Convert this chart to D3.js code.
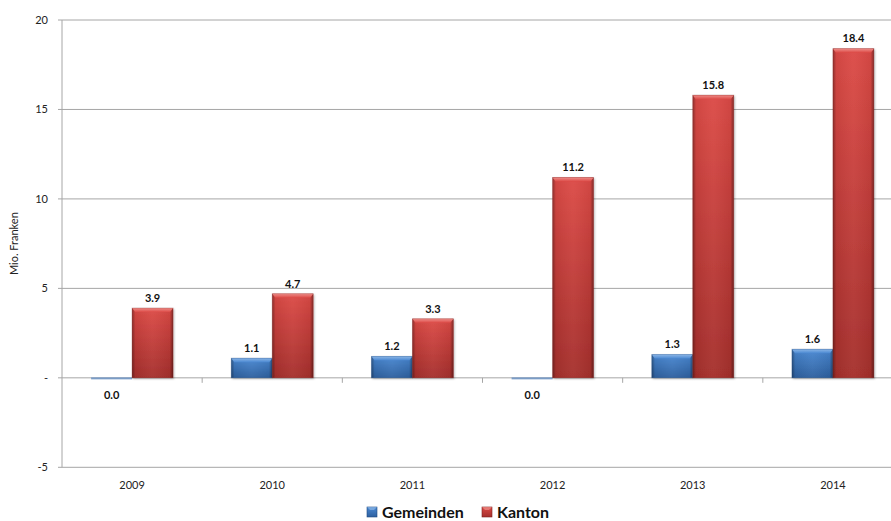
<!DOCTYPE html>
<html>
<head>
<meta charset="utf-8">
<script src="https://cdn.jsdelivr.net/npm/d3@7"></script>
<style>
  html, body { margin: 0; padding: 0; background: #fff; }
  svg { display: block; font-family: Lato, "Open Sans", sans-serif; }
</style>
</head>
<body>
<svg id="chart" width="891" height="521"></svg>
<script>
// Jahre und Werte in Mio. Franken
const years = ["2009", "2010", "2011", "2012", "2013", "2014"];
const gemeinden = [0.0, 1.1, 1.2, 0.0, 1.3, 1.6];
const kanton = [3.9, 4.7, 3.3, 11.2, 15.8, 18.4];
const seriesNames = ["Gemeinden", "Kanton"];
const yTicks = [-5, 0, 5, 10, 15, 20];

const svg = d3.select("#chart");
const plotLeft = 62, plotRight = 903, plotTop = 20, plotBottom = 467.3;

const x = d3.scaleBand().domain(years).range([plotLeft, plotRight]).paddingInner(0).paddingOuter(0);
const xs = d3.scaleBand().domain(seriesNames).range([0, x.bandwidth()]).paddingInner(0).paddingOuter(0.71);
const y = d3.scaleLinear().domain([-5, 20]).range([plotBottom, plotTop]);

const colors = {
  Gemeinden: { top: "#4a88d2", bot: "#2d609f", bevel: "#8cb6e6", edge: "#1f4a80" },
  Kanton:    { top: "#dc4a46", bot: "#a52f2c", bevel: "#ee8e8a", edge: "#7e1f1d" }
};

const defs = svg.append("defs");
seriesNames.forEach(s => {
  const c = colors[s];
  const gv = defs.append("linearGradient").attr("id", "gv-" + s).attr("x1", 0).attr("y1", 0).attr("x2", 0).attr("y2", 1);
  gv.append("stop").attr("offset", "0%").attr("stop-color", c.top);
  gv.append("stop").attr("offset", "100%").attr("stop-color", c.bot);
  const gb = defs.append("linearGradient").attr("id", "gb-" + s).attr("x1", 0).attr("y1", 0).attr("x2", 0).attr("y2", 1);
  gb.append("stop").attr("offset", "0%").attr("stop-color", c.bevel);
  gb.append("stop").attr("offset", "100%").attr("stop-color", c.top);
});
const gh = defs.append("linearGradient").attr("id", "edges").attr("x1", 0).attr("y1", 0).attr("x2", 1).attr("y2", 0);
gh.append("stop").attr("offset", "0%").attr("stop-color", "#000").attr("stop-opacity", 0.35);
gh.append("stop").attr("offset", "8%").attr("stop-color", "#000").attr("stop-opacity", 0.05);
gh.append("stop").attr("offset", "50%").attr("stop-color", "#fff").attr("stop-opacity", 0.04);
gh.append("stop").attr("offset", "92%").attr("stop-color", "#000").attr("stop-opacity", 0.05);
gh.append("stop").attr("offset", "100%").attr("stop-color", "#000").attr("stop-opacity", 0.4);
const shadow = defs.append("filter").attr("id", "shadow").attr("x", "-20%").attr("y", "-20%").attr("width", "140%").attr("height", "140%");
shadow.append("feDropShadow").attr("dx", 1).attr("dy", 1).attr("stdDeviation", 1.2).attr("flood-color", "#000").attr("flood-opacity", 0.3);

// Gitterlinien
svg.append("g").selectAll("line").data(yTicks).join("line")
  .attr("x1", plotLeft - 4).attr("x2", plotRight)
  .attr("y1", d => y(d)).attr("y2", d => y(d))
  .attr("stroke", "#a6a6a6").attr("stroke-width", 1);

// Y-Achse
svg.append("line").attr("x1", plotLeft).attr("x2", plotLeft).attr("y1", plotTop).attr("y2", plotBottom)
  .attr("stroke", "#a6a6a6").attr("stroke-width", 1);
svg.append("g").selectAll("text").data(yTicks).join("text")
  .attr("x", 48).attr("y", d => y(d)).attr("dy", "0.35em")
  .attr("text-anchor", "end").attr("font-size", 11).attr("fill", "#222")
  .text(d => d === 0 ? "-" : d);

svg.append("text")
  .attr("transform", `translate(18,${(plotTop + plotBottom) / 2}) rotate(-90)`)
  .attr("text-anchor", "middle").attr("font-size", 11).attr("fill", "#222")
  .text("Mio. Franken");

// Kategorie-Striche auf der Nulllinie
svg.append("g").selectAll("line").data(years.slice(1)).join("line")
  .attr("x1", d => x(d)).attr("x2", d => x(d))
  .attr("y1", y(0)).attr("y2", y(0) + 5)
  .attr("stroke", "#a6a6a6");

// Jahresbeschriftung
svg.append("g").selectAll("text").data(years).join("text")
  .attr("x", d => x(d) + x.bandwidth() / 2).attr("y", 489)
  .attr("text-anchor", "middle").attr("font-size", 11).attr("fill", "#222")
  .text(d => d);

// Balken
const rows = [];
years.forEach((yr, i) => {
  rows.push({ year: yr, series: "Gemeinden", value: gemeinden[i] });
  rows.push({ year: yr, series: "Kanton", value: kanton[i] });
});
const fmt = d3.format(".1f");
const bw = xs.bandwidth();

const bars = svg.append("g").selectAll("g").data(rows).join("g")
  .attr("transform", d => `translate(${x(d.year) + xs(d.series)},0)`);

bars.each(function (d) {
  const g = d3.select(this);
  const c = colors[d.series];
  if (d.value === 0) {
    g.append("rect").attr("x", 0).attr("y", y(0) - 0.5).attr("width", bw).attr("height", 2)
      .attr("fill", "#7a9cc6");
    return;
  }
  const yt = y(Math.max(0, d.value)), h = Math.abs(y(d.value) - y(0));
  g.append("rect").attr("x", 0).attr("y", yt).attr("width", bw).attr("height", h)
    .attr("fill", `url(#gv-${d.series})`).attr("filter", "url(#shadow)");
  g.append("rect").attr("x", 0).attr("y", yt).attr("width", bw).attr("height", h)
    .attr("fill", "url(#edges)");
  // Abschrägung oben
  g.append("path")
    .attr("d", `M0,${yt} L${bw},${yt} L${bw - 3},${yt + 4} L3,${yt + 4} Z`)
    .attr("fill", `url(#gb-${d.series})`);
  g.append("rect").attr("x", 0).attr("y", yt).attr("width", bw).attr("height", h)
    .attr("fill", "none").attr("stroke", c.edge).attr("stroke-opacity", 0.35).attr("stroke-width", 0.8);
});

// Datenbeschriftung
bars.append("text")
  .attr("x", bw / 2)
  .attr("y", d => d.value > 0 ? y(d.value) - 10 : y(0) + 17)
  .attr("dy", "0.35em")
  .attr("text-anchor", "middle").attr("font-size", 11).attr("font-weight", "bold").attr("fill", "#111")
  .text(d => fmt(d.value));

// Legende
const legend = [
  { name: "Gemeinden", x: 367 },
  { name: "Kanton", x: 482 }
];
const lg = svg.append("g").selectAll("g").data(legend).join("g")
  .attr("transform", d => `translate(${d.x},507)`);
lg.append("rect").attr("width", 10).attr("height", 10)
  .attr("fill", d => `url(#gv-${d.name})`).attr("stroke", d => colors[d.name].edge).attr("stroke-width", 0.6);
lg.append("path").attr("d", "M0,0 L10,0 L7,3 L3,3 Z").attr("fill", d => colors[d.name].bevel).attr("opacity", 0.7);
lg.append("text").attr("x", 15).attr("y", 5).attr("dy", "0.36em")
  .attr("font-size", 16).attr("font-weight", "bold").attr("fill", "#111")
  .text(d => d.name);
</script>
</body>
</html>
